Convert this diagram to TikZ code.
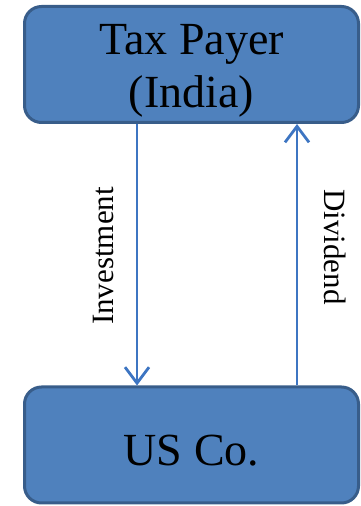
\documentclass[tikz,border=0pt]{standalone}
\usepackage{fontspec}
\setmainfont{Liberation Serif}
\usetikzlibrary{arrows.meta}

\definecolor{boxfill}{HTML}{4F81BD}
\definecolor{boxline}{HTML}{385D8A}
\definecolor{flowline}{HTML}{3D75C2}

\begin{document}
\begin{tikzpicture} [x=1pt, y=1pt,
  party/.style={draw=boxline, line width=3pt, fill=boxfill, rounded corners=17pt,
    minimum width=334pt, minimum height=116pt, inner sep=0pt},
  partytext/.style={align=center, inner sep=0pt, font=\fontsize{46}{53}\selectfont},
  flow/.style={flowline, line width=1.8pt,
    -{Straight Barb[length=16pt, width=24pt, line width=2.8pt]}},
  lbl/.style={font=\fontsize{31}{36}\selectfont, inner sep=0pt}]

\useasboundingbox (0,0) rectangle (361,506);

\node[party] (payer) at (191.5,441.5) {};
\node[party] (usco) at (191.5,61) {};
\node[partytext] (payertext) at ([yshift=-6pt]payer.center) {Tax Payer\\(India)};
\node[partytext] (uscotext) at ([yshift=-6pt]usco.center) {US Co.};

\draw[flow] ([xshift=-54.5pt]payer.south) -- ([xshift=-54.5pt]usco.north);
\draw[flow] ([xshift=105.5pt]usco.north) -- ([xshift=105.5pt]payer.south);

\node[lbl, rotate=90] (invest) at (103,250) {Investment};
\node[lbl, rotate=-90] (divid) at (335,259) {Dividend};

\end{tikzpicture}
\end{document}
